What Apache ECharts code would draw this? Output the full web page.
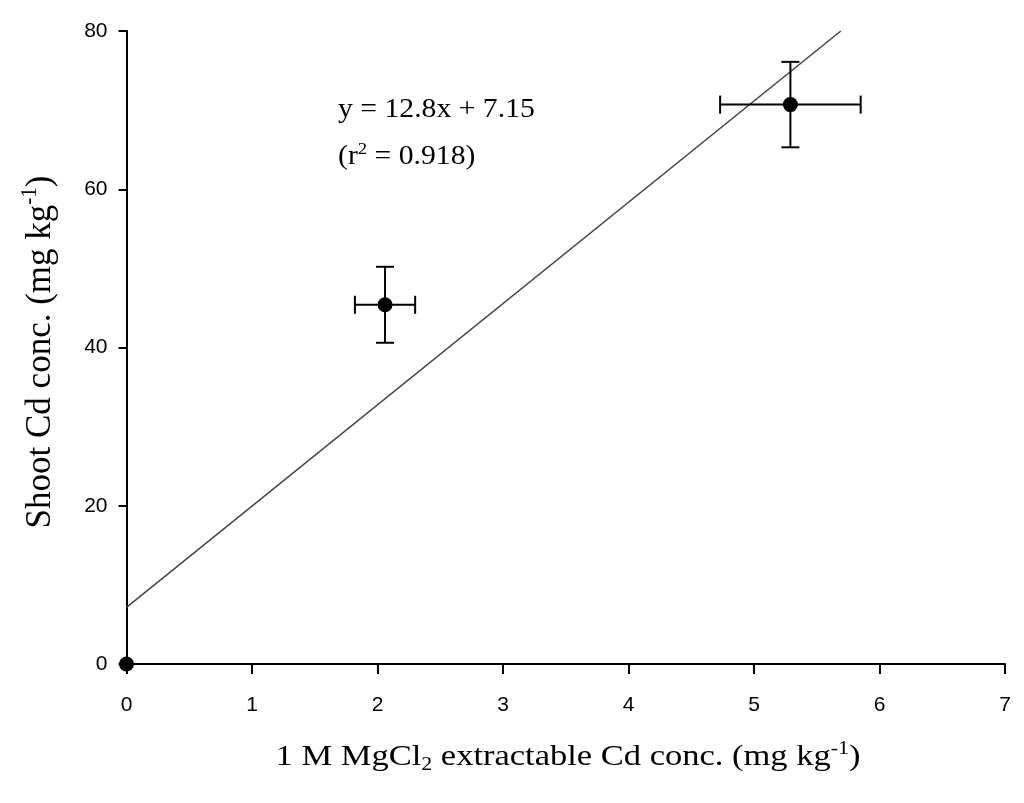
<!DOCTYPE html>
<html><head><meta charset="utf-8">
<script src="https://cdn.jsdelivr.net/npm/echarts@6/dist/echarts.min.js"></script>
<style>html,body{margin:0;padding:0;background:#fff}#c{width:1024px;height:803px}</style>
</head><body><div id="c"></div>
<script>
const xValues = [0, 2.06, 5.29];
const yValues = [0, 45.4, 70.7];
const xErrors = [0, 0.24, 0.56];
const yErrors = [0, 4.8, 5.4];
const slope = 12.8;
const intercept = 7.15;
const xTicks = [0,1,2,3,4,5,6,7];
const yTicks = [0,20,40,60,80];

const pts = xValues.map((x,i)=>[x, yValues[i], xErrors[i], yErrors[i]]);
const yMax = yTicks[yTicks.length-1];
const xEnd = (yMax - intercept) / slope;
const fitLine = [[0, intercept], [xEnd, slope*xEnd + intercept]];

const chart = echarts.init(document.getElementById('c'));
const serif = '"Liberation Serif","Times New Roman",serif';
const sans = '"Liberation Sans",Arial,sans-serif';

chart.setOption({
  animation:false,
  grid:{left:126.5, right:19, top:31, bottom:139},
  xAxis:{type:'value', min:xTicks[0], max:xTicks[xTicks.length-1], interval:1,
    axisLine:{onZero:false, lineStyle:{color:'#000', width:2}},
    axisTick:{show:true, length:10, inside:false, lineStyle:{color:'#000', width:2}},
    axisLabel:{margin:31, color:'#000', fontFamily:sans, fontSize:21},
    splitLine:{show:false}
  },
  yAxis:{type:'value', min:yTicks[0], max:yMax, interval:20,
    axisLine:{show:true, onZero:false, lineStyle:{color:'#000', width:2}},
    axisTick:{show:true, length:8, lineStyle:{color:'#000', width:2}},
    axisLabel:{margin:19, color:'#000', fontFamily:sans, fontSize:21},
    splitLine:{show:false}
  },
  graphic:[{
    type:'text', x:338, y:110, scaleX:1.1,
    style:{text:'y = 12.8x + 7.15', font:'27px '+serif, fill:'#000', verticalAlign:'middle'}
  },{
    type:'text', x:338, y:157, scaleX:1.1,
    style:{
      text:'{a|(r}{sup|2}{a| = 0.918)}', verticalAlign:'middle',
      rich:{
        a:{fontFamily:serif, fontSize:27, fill:'#000'},
        sup:{fontFamily:serif, fontSize:17, fill:'#000', verticalAlign:'top', padding:[0,0,14,0]}
      }
    }
  },{
    type:'text', x:568, y:757, scaleX:1.15,
    style:{
      text:'{a|1 M MgCl}{sub|2}{a| extractable Cd conc. (mg kg}{sup|-1}{a|)}',
      align:'center', verticalAlign:'middle',
      rich:{
        a:{fontFamily:serif, fontSize:30, fill:'#000'},
        sub:{fontFamily:serif, fontSize:19, fill:'#000', verticalAlign:'bottom', padding:[16,0,0,0]},
        sup:{fontFamily:serif, fontSize:19, fill:'#000', verticalAlign:'top', padding:[0,0,16,0]}
      }
    }
  },{
    type:'text', x:40, y:352, rotation:Math.PI/2, scaleY:1.05,
    style:{
      text:'{a|Shoot Cd conc. (mg kg}{sup|-1}{a|)}',
      align:'center', verticalAlign:'middle',
      rich:{
        a:{fontFamily:serif, fontSize:35, fill:'#000'},
        sup:{fontFamily:serif, fontSize:21, fill:'#000', verticalAlign:'top', padding:[0,0,18,0]}
      }
    }
  }],
  series:[{
    type:'line', data:fitLine, symbol:'none', silent:true,
    lineStyle:{color:'#444', width:1.5}, z:1
  },{
    type:'custom', data:pts, z:3,
    renderItem:function(params, api){
      const x=api.value(0), y=api.value(1), ex=api.value(2), ey=api.value(3);
      const children=[];
      const cap=9;
      const st={stroke:'#000', lineWidth:2};
      if(ex>0){
        const l=api.coord([x-ex,y]), r=api.coord([x+ex,y]);
        children.push({type:'line', shape:{x1:l[0],y1:l[1],x2:r[0],y2:r[1]}, style:st});
        children.push({type:'line', shape:{x1:l[0],y1:l[1]-cap,x2:l[0],y2:l[1]+cap}, style:st});
        children.push({type:'line', shape:{x1:r[0],y1:r[1]-cap,x2:r[0],y2:r[1]+cap}, style:st});
      }
      if(ey>0){
        const t=api.coord([x,y+ey]), b=api.coord([x,y-ey]);
        children.push({type:'line', shape:{x1:t[0],y1:t[1],x2:b[0],y2:b[1]}, style:st});
        children.push({type:'line', shape:{x1:t[0]-cap,y1:t[1],x2:t[0]+cap,y2:t[1]}, style:st});
        children.push({type:'line', shape:{x1:b[0]-cap,y1:b[1],x2:b[0]+cap,y2:b[1]}, style:st});
      }
      return {type:'group', children:children};
    }
  },{
    type:'scatter', data:pts.map(p=>[p[0],p[1]]), symbol:'circle', symbolSize:15,
    itemStyle:{color:'#000', opacity:1}, z:4, clip:false
  }]
});
</script></body></html>
